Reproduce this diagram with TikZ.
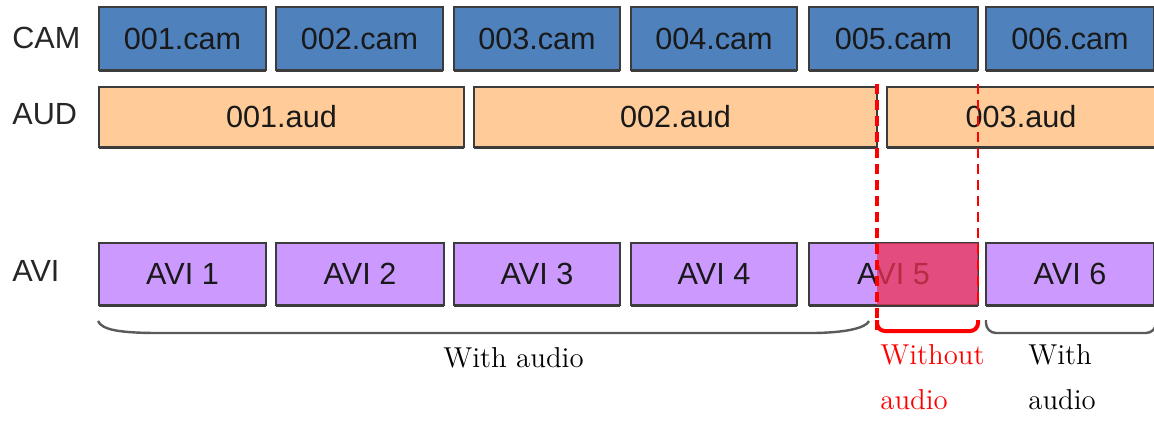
\documentclass[tikz,border=0pt]{standalone}
\usepackage{fontspec}
\newfontfamily\boxfont{Liberation Sans}
\definecolor{camblue}{RGB}{79,129,189}
\definecolor{audpeach}{RGB}{255,204,153}
\definecolor{avipurple}{RGB}{204,153,255}
\definecolor{overlayred}{RGB}{235,51,84}
\definecolor{edgegray}{RGB}{60,60,60}
\definecolor{bracegray}{RGB}{90,90,90}
\newcommand{\seg}[7]{%
  \node[#6, minimum width={(#3-#2)*0.5pt}, minimum height={(#5-#4)*0.5pt}] (#1) at ({(#2+#3)/2},{(#4+#5)/2}) {#7};
  \draw[edgegray, line width=1.5pt] (#1.south west) -- (#1.south east);}
\begin{document}
\begin{tikzpicture}[x=0.5pt,y=-0.5pt,
  segbox/.style={draw=edgegray, line width=0.7pt, inner sep=0pt, outer sep=0pt,
    font=\boxfont\fontsize{15.3}{18}\selectfont, text=black!90},
  cambox/.style={segbox, fill=camblue},
  audbox/.style={segbox, fill=audpeach},
  avibox/.style={segbox, fill=avipurple},
  rowlabel/.style={anchor=west, inner sep=0pt, font=\boxfont\fontsize{15.3}{18}\selectfont, text=black!85},
  graybrace/.style={draw=bracegray, line width=1.2pt},
  redbrace/.style={draw=red, line width=2pt, rounded corners=4pt},
  reddash/.style={draw=red, dash pattern=on 5pt off 3pt},
  caption/.style={inner sep=0pt, font=\fontsize{14.4}{22.5}\selectfont, align=left}]
\useasboundingbox (0,0) rectangle (1154,420);
\clip (0,0) rectangle (1154,420);
\fill[white] (0,0) rectangle (1154,420);

\node[rowlabel] (camlab) at (12,38) {CAM};
\node[rowlabel] (audlab) at (12,114) {AUD};
\node[rowlabel] (avilab) at (12,271) {AVI};

\seg{c1}{99}{266}{7}{70}{cambox}{001.cam}
\seg{c2}{276}{443}{7}{70}{cambox}{002.cam}
\seg{c3}{454}{620}{7}{70}{cambox}{003.cam}
\seg{c4}{631}{797}{7}{70}{cambox}{004.cam}
\seg{c5}{809}{978}{7}{70}{cambox}{005.cam}
\seg{c6}{986}{1154}{7}{70}{cambox}{006.cam}

\seg{a1}{99}{464}{87}{147}{audbox}{001.aud}
\seg{a2}{474}{877}{87}{147}{audbox}{002.aud}
\seg{a3}{887}{1155}{87}{147}{audbox}{003.aud}

\seg{v1}{99}{266}{243}{305}{avibox}{AVI 1}
\seg{v2}{276}{444}{243}{305}{avibox}{AVI 2}
\seg{v3}{454}{620}{243}{305}{avibox}{AVI 3}
\seg{v4}{631}{797}{243}{305}{avibox}{AVI 4}
\seg{v5}{809}{978}{243}{305}{avibox}{AVI 5}
\seg{v6}{986}{1154}{243}{305}{avibox}{AVI 6}

% missing-audio overlay
\fill[overlayred, opacity=0.75] (877,243) rectangle (978,305);

% dashed guide lines
\coordinate (dl1) at (877,84);
\coordinate (dl2) at (877,330);
\coordinate (dr1) at (978,84);
\coordinate (dr2) at (978,306);
\draw[reddash, line width=1.6pt] (dl1) -- (dl2);
\draw[reddash, line width=1pt] (dr1) -- (dr2);

% braces
\coordinate (b1s) at (98,321);
\coordinate (b1e) at (869,321);
\draw[graybrace] (b1s) .. controls (102,330) and (120,333) .. (160,333) -- (810,333) .. controls (845,333) and (866,328) .. (b1e);
\coordinate (b2s) at (877,320);
\coordinate (b2e) at (978,320);
\draw[redbrace] (b2s) |- (927,331) -| (b2e);
\coordinate (b3s) at (986,320);
\coordinate (b3e) at (1156,320);
\draw[graybrace, rounded corners=5pt] (b3s) |- (1070,333) -| (b3e);

% captions
\node[caption, anchor=west] (t1) at (443,358) {With audio};
\node[caption, anchor=north west, text=red] (t2) at (880,344) {Without\\audio};
\node[caption, anchor=north west] (t3) at (1028,344) {With\\audio};
\end{tikzpicture}
\end{document}
